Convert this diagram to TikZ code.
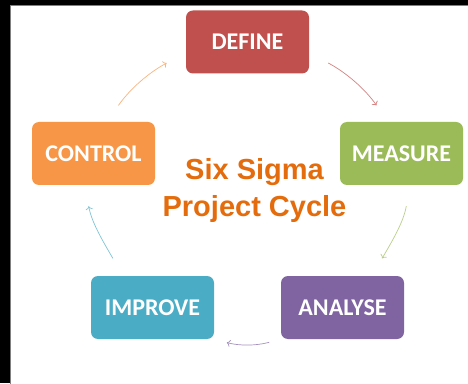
\documentclass[tikz,border=0pt]{standalone}
\usepackage{fontspec}
\setmainfont{Carlito}
\newfontfamily\titlefont{Liberation Sans}
\usepackage{tikz}
\usetikzlibrary{arrows,arrows.meta,shapes}
\definecolor{defred}{HTML}{C0504D}
\definecolor{measgreen}{HTML}{9BBB59}
\definecolor{anapurple}{HTML}{8064A2}
\definecolor{impblue}{HTML}{4BACC6}
\definecolor{ctrlorange}{HTML}{F79646}
\definecolor{titleorange}{RGB}{228,108,12}
\tikzstyle{block} = [rectangle, text=white, font=\bfseries\fontsize{24}{28}\selectfont,
    minimum width=123pt, minimum height=63pt, rounded corners=7pt, inner sep=0pt]
\tikzstyle{title} = [text=titleorange, align=center, inner sep=0pt,
    font=\titlefont\bfseries\fontsize{29}{37}\selectfont]
\tikzstyle{line} = [draw, line width=0.7pt, -{To[length=3.5pt,width=7pt]}]

\begin{document}
\begin{tikzpicture}[x=1pt, y=1pt, node distance = 2cm, auto]
    % Frame
    \useasboundingbox (0,0) rectangle (468,383);
    \fill [black] (0,0) rectangle (468,383);
    \path [fill=white, draw=gray] (10.5,-2) rectangle (470,377.5);

    % Place nodes
    \node [block, fill=defred] (define) at (247.5,341) {DEFINE};
    \node [block, fill=measgreen] (measure) at (401.5,229.5) {MEASURE};
    \node [block, fill=anapurple] (analyse) at (342.5,75.5) {ANALYSE};
    \node [block, fill=impblue] (improve) at (152.5,75.5) {IMPROVE};
    \node [block, fill=ctrlorange] (control) at (93.5,229.5) {CONTROL};
    \node [title] (cycle) at (254.5,192) {Six Sigma\\Project Cycle};

    % Draw edges
    \path [line, color=defred!70, shorten <=21.6pt, shorten >=20pt]
        (define.-10) to [out=-28, in=125] (measure.113);
    \path [line, color=measgreen!70, shorten <=21.3pt, shorten >=20pt]
        (measure.-75) to [out=-100, in=60] (analyse.47);
    \path [line, color=anapurple!70, shorten <=12pt, shorten >=13pt]
        (analyse.south west) to [out=195, in=-15] (improve.south east);
    \path [line, color=impblue!70, shorten <=20pt, shorten >=21.3pt]
        (improve.133) to [out=120, in=-80] (control.-105);
    \path [line, color=ctrlorange!70, shorten <=20pt, shorten >=21.6pt]
        (control.67) to [out=55, in=208] (define.190);
\end{tikzpicture}
\end{document}
